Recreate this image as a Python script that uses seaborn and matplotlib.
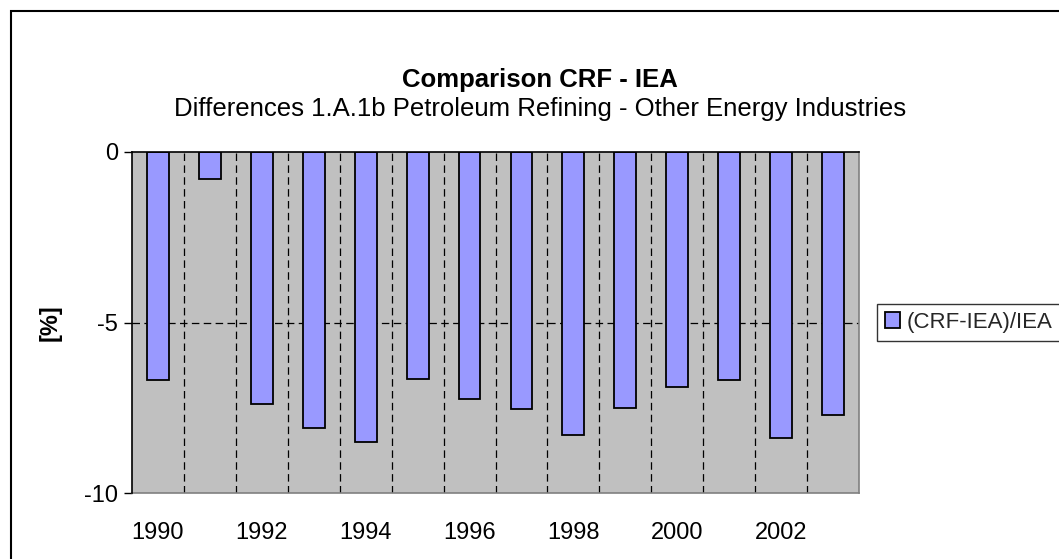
import matplotlib
matplotlib.use("Agg")
import matplotlib.pyplot as plt
import seaborn as sns
import pandas as pd
from matplotlib.patches import Rectangle
from matplotlib.ticker import FixedLocator

years = [str(y) for y in range(1990, 2004)]
values = [-6.7, -0.8, -7.4, -8.1, -8.5, -6.65, -7.25, -7.55, -8.3, -7.5, -6.9, -6.7, -8.4, -7.7]
tick_labels = ["1990", "", "1992", "", "1994", "", "1996", "", "1998", "", "2000", "", "2002", ""]
series_name = "(CRF-IEA)/IEA"

sns.set_theme(style="white")
plt.rcParams["font.family"] = ["Liberation Sans", "DejaVu Sans"]

W, H = 1059, 559
fig = plt.figure(figsize=(W / 100, H / 100), dpi=100)
fig.patch.set_facecolor("white")

# chart border
fig.patches.append(Rectangle((11 / W, -0.2), 1.3, 1.2 - 11 / H, transform=fig.transFigure,
                             fill=False, edgecolor="black", linewidth=1.5, zorder=0))

ax = fig.add_axes([132 / W, (H - 493) / H, 727 / W, 341 / H])
ax.set_facecolor("#C0C0C0")

df = pd.DataFrame({"year": years, "value": values})
sns.barplot(data=df, x="year", y="value", color="#9999FF", width=0.42,
            edgecolor="black", linewidth=1.3, saturation=1, label=series_name, ax=ax, zorder=3)

ax.set_ylim(-10, 0)
ax.set_xlim(-0.5, len(years) - 0.5)
ax.set_yticks([0, -5, -10])
ax.set_yticklabels(["0", "-5", "-10"])
ax.set_xticks(range(len(years)))
ax.set_xticklabels(tick_labels)
ax.xaxis.set_minor_locator(FixedLocator([i + 0.5 for i in range(len(years) - 1)]))

ax.grid(False)
ax.grid(True, which="minor", axis="x", color="black", linestyle=(0, (6, 3.5)), linewidth=0.9, zorder=1)
ax.axhline(-5, color="black", linestyle=(0, (6, 3.5)), linewidth=0.9, zorder=1)
ax.set_axisbelow(True)

ax.tick_params(axis="x", which="both", length=0, labelsize=17, pad=21, colors="black")
ax.tick_params(axis="y", which="major", length=6, width=1, direction="out", labelsize=17,
               pad=4, colors="black", left=True)

for side in ["left", "top"]:
    ax.spines[side].set_color("black")
    ax.spines[side].set_linewidth(1.2)
    ax.spines[side].set_zorder(5)
for side in ["right", "bottom"]:
    ax.spines[side].set_color("#808080")
    ax.spines[side].set_linewidth(1.2)
    ax.spines[side].set_visible(True)
ax.spines["left"].set_visible(True)
ax.spines["top"].set_visible(True)

ax.set_xlabel("")
ax.set_ylabel("[%]", fontsize=17, fontweight="bold", labelpad=16, color="black")

leg = ax.get_legend()
if leg is not None:
    leg.remove()
handles, labels = ax.get_legend_handles_labels()
lg = fig.legend(handles[:1], labels[:1], loc="center left",
                bbox_to_anchor=(877 / W, 1 - 322.5 / H), bbox_transform=fig.transFigure,
                frameon=True, fancybox=False, edgecolor="black", fontsize=16,
                handlelength=0.7, handleheight=0.7, handletextpad=0.3,
                borderpad=0.35, borderaxespad=0)
lg.get_frame().set_linewidth(1.0)

fig.text(540 / W, 1 - 80 / H, "Comparison CRF - IEA", ha="center", va="center",
         fontsize=18.5, fontweight="bold", color="black")
fig.text(540 / W, 1 - 109 / H, "Differences 1.A.1b Petroleum Refining - Other Energy Industries",
         ha="center", va="center", fontsize=18.5, color="black")

fig.savefig("out.png", dpi=100, facecolor="white")
